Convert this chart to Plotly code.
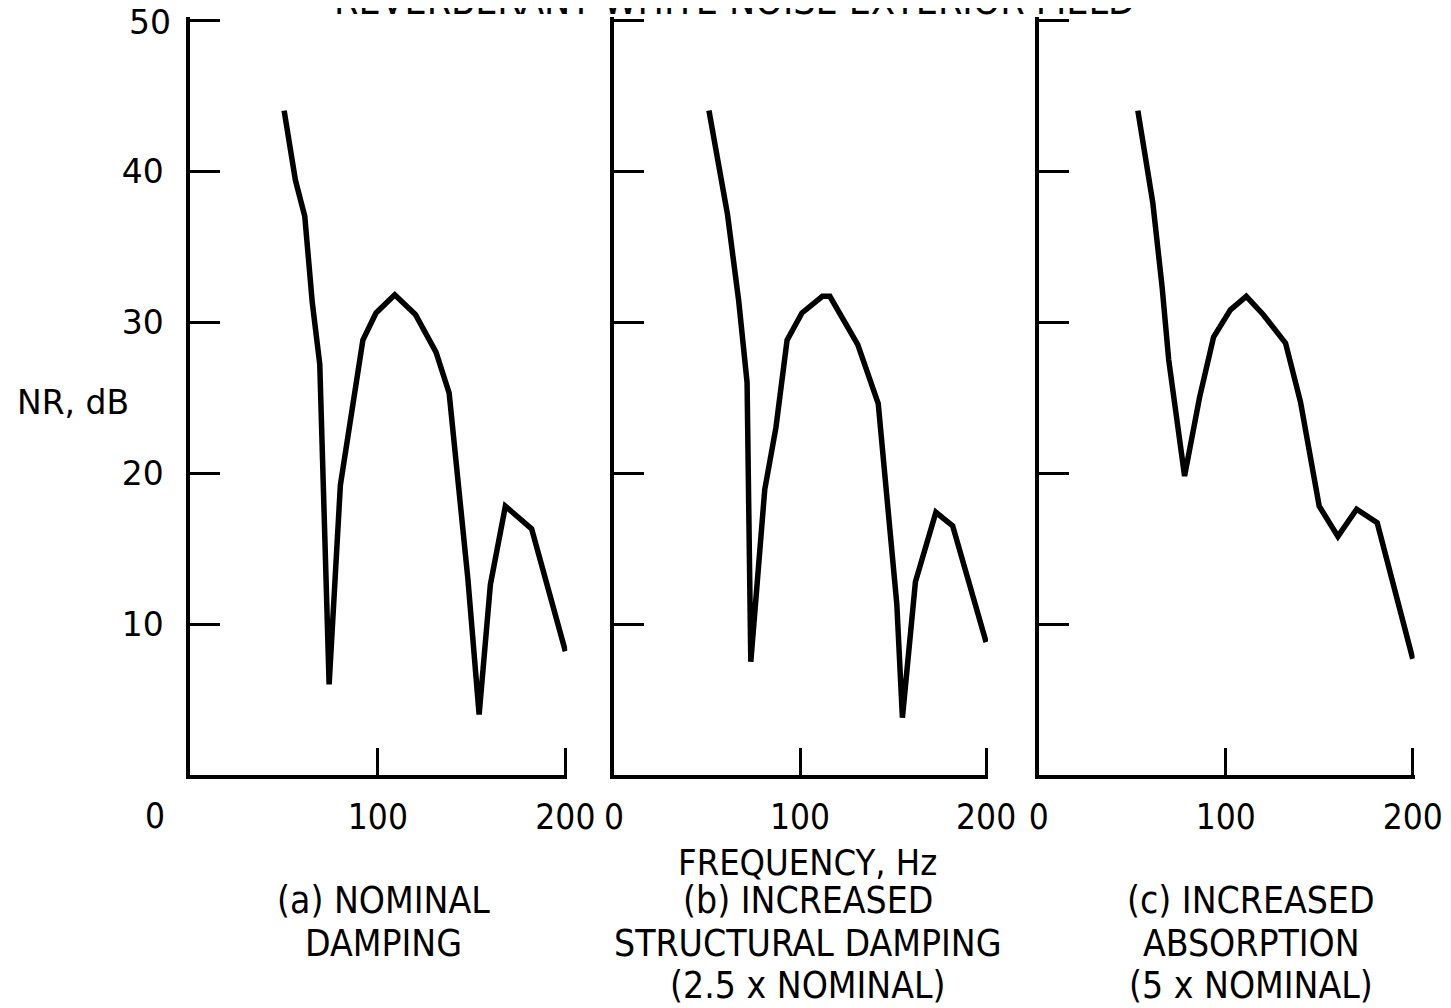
import plotly.graph_objects as go

# ---- data ----
freq_a = [50, 56, 61, 65, 69, 74, 80, 85, 92, 99, 109, 120, 131, 138, 148, 154, 160, 168, 182, 200]
nr_a   = [44, 39.4, 37, 31.3, 27.2, 6, 19.2, 23.4, 28.8, 30.6, 31.8, 30.5, 28, 25.3, 13, 4, 12.6, 17.8, 16.3, 8.2]

freq_b = [51, 61, 67, 71.5, 73.5, 81, 87, 93, 101, 112, 116, 131, 142, 152, 155, 162, 173, 182, 200]
nr_b   = [44, 37.1, 31.4, 26, 7.5, 18.9, 23, 28.8, 30.6, 31.7, 31.7, 28.5, 24.6, 11.3, 3.8, 12.8, 17.4, 16.5, 8.8]

freq_c = [53, 61, 66, 69.5, 78, 86, 93.5, 102.5, 111, 120, 132, 140, 150, 160, 170, 181, 200]
nr_c   = [44, 37.9, 32.3, 27.5, 19.8, 25, 29, 30.8, 31.7, 30.5, 28.6, 24.7, 17.8, 15.8, 17.6, 16.7, 7.7]

y_ticks = [10, 20, 30, 40, 50]
y_labels = ["10", "20", "30", "40", ""]   # top label "50" drawn separately (sits at the page edge)
x_ticks = [0, 100, 200]

title_text = "REVERBERANT WHITE NOISE EXTERIOR FIELD"
y_title = "NR, dB"
x_title = "FREQUENCY, Hz"
captions = [
    ["(a) NOMINAL", "DAMPING"],
    ["(b) INCREASED", "STRUCTURAL DAMPING", "(2.5 x NOMINAL)"],
    ["(c) INCREASED", "ABSORPTION", "(5 x NOMINAL)"],
]

W, H = 1460, 1000
COND = "DejaVu Sans Condensed, Liberation Sans Narrow, Arial Narrow, sans-serif"
WIDE = "DejaVu Sans, Verdana, sans-serif"

fig = go.Figure()
series = [(freq_a, nr_a), (freq_b, nr_b), (freq_c, nr_c)]
for i, (fx, fy) in enumerate(series):
    sfx = "" if i == 0 else str(i + 1)
    fig.add_trace(go.Scatter(x=fx, y=fy, mode="lines",
                             line=dict(color="black", width=5.5),
                             xaxis="x" + sfx, yaxis="y" + sfx,
                             showlegend=False, hoverinfo="skip"))

X_MAX, Y_MAX = 201, 50.2
# figure-pixel positions of x=0 and x=200 for each panel
px_x = [(177, 562), (612, 994), (1048, 1432)]
y0_px, y50_px = 767, 12
ppu_y = (y0_px - y50_px) / 50.0
ytop_px = y0_px - ppu_y * Y_MAX
ydom = [(H - y0_px) / H, (H - ytop_px) / H]

layout = dict(width=W, height=H, margin=dict(l=0, r=0, t=0, b=0),
              paper_bgcolor="white", plot_bgcolor="white", showlegend=False)

for i, (x0, x200) in enumerate(px_x):
    sfx = "" if i == 0 else str(i + 1)
    ppu = (x200 - x0) / 200.0
    x1 = x0 + ppu * X_MAX
    xa = dict(domain=[x0 / W, min(x1 / W, 1.0)], range=[0, X_MAX], showgrid=False, zeroline=False,
              showline=True, linecolor="black", linewidth=4,
              ticks="inside", ticklen=27, tickwidth=3, tickcolor="black",
              tickvals=[100, 200] if i == 0 else x_ticks,
              ticktext=["100", "200"] if i == 0 else [str(v) for v in x_ticks],
              ticklabelstandoff=8,
              tickfont=dict(family=COND, size=35, color="black"),
              anchor="y" + sfx, fixedrange=True)
    ya = dict(domain=ydom, range=[0, Y_MAX], showgrid=False, zeroline=False,
              showline=True, linecolor="black", linewidth=4,
              ticks="inside", ticklen=30, tickwidth=3, tickcolor="black",
              tickvals=y_ticks, ticktext=y_labels, showticklabels=(i == 0),
              ticklabelstandoff=16,
              tickfont=dict(family=WIDE, size=33, color="black"),
              anchor="x" + sfx, fixedrange=True)
    layout["xaxis" + sfx] = xa
    layout["yaxis" + sfx] = ya

fig.update_layout(**layout)

def pa(x, y, text, family, size, xanchor="center", yanchor="middle"):
    return dict(x=x / W, y=1 - y / H, xref="paper", yref="paper", text=text,
                showarrow=False, font=dict(family=family, size=size, color="black"),
                xanchor=xanchor, yanchor=yanchor)

ann = []
ann.append(pa(159, 14, "50", WIDE, 33, xanchor="right"))        # top y label
ann.append(pa(141, 808, "0", COND, 35))                        # origin label, panel a
ann.append(pa(736, 17, title_text, COND, 39, yanchor="bottom"))  # cut-off title
ann.append(pa(56, 394, y_title, WIDE, 33))
ann.append(pa(811, 854, x_title, COND, 36))
cap_x = [375, 811, 1266]
line_y = [892, 935, 977]
for cx, lines in zip(cap_x, captions):
    for ly, t in zip(line_y, lines):
        ann.append(pa(cx, ly, t, COND, 37))
fig.update_layout(annotations=ann)

fig.write_html("out.html", config={"displayModeBar": False})
